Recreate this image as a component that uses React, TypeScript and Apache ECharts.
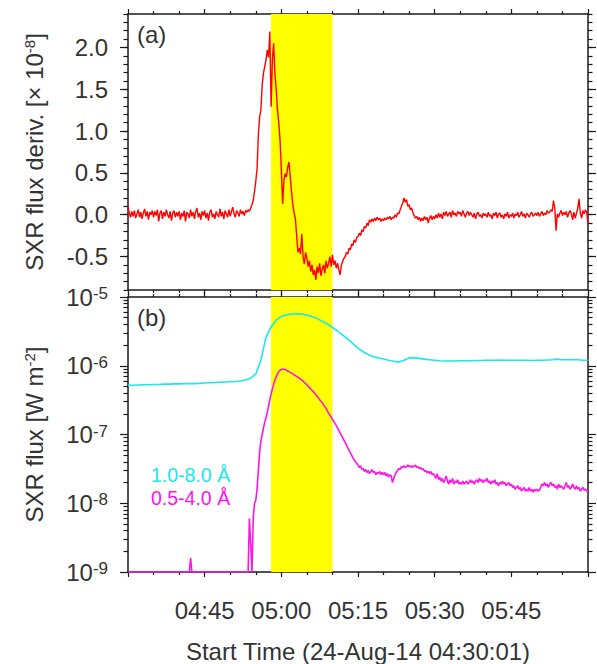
import React, { useEffect, useRef } from 'react';
import * as echarts from 'echarts';

// ---------- data ----------
// time axis: minutes after 04:30
const X_MIN = 0;
const X_MAX = 90;
const X_TICK_MINUTES = [15, 30, 45, 60, 75];
const X_TICK_LABELS = ['04:45', '05:00', '05:15', '05:30', '05:45'];
const X_TITLE = 'Start Time (24-Aug-14 04:30:01)';
const HIGHLIGHT = [28, 40];

// (a) SXR flux derivative (x 1e-8), sampled every 0.25 min
const DERIV_STEP = 0.25;
const derivValues = [
  0.10, 0.02, -0.03, 0.04, -0.02, 0.05, -0.04, 0.01, 0.06, -0.03, 0.03, -0.05, 0.02, 0.07, -0.02, 0.04, -0.06, 0.03, 0.00, 0.05,
  -0.03, 0.04, -0.01, 0.06, -0.08, 0.02, 0.05, -0.05, 0.03, -0.02, 0.06, 0.00, -0.04, 0.04, -0.07, 0.02, 0.05, -0.03, 0.03, -0.02,
  0.04, -0.06, 0.02, -0.02, 0.05, -0.08, 0.03, 0.01, -0.04, 0.06, -0.02, 0.03, -0.05, 0.04, 0.08, -0.03, 0.02, -0.06, 0.04, -0.01,
  0.05, -0.04, 0.02, -0.07, 0.03, 0.06, -0.03, 0.01, -0.05, 0.04, 0.00, -0.03, 0.07, -0.02, 0.03, -0.05, 0.05, 0.01, -0.03, 0.06,
  -0.02, 0.04, 0.09, 0.01, -0.03, 0.05, 0.02, -0.02, 0.06, 0.01, 0.04, -0.01, 0.05, 0.03, 0.06, 0.04, 0.08, 0.12, 0.17, 0.28,
  0.40, 0.55, 0.95, 1.17, 1.25, 1.55, 1.69, 1.77, 1.85, 1.97, 1.88, 2.19, 1.29, 1.85, 2.05, 1.68, 1.50, 1.25, 1.10, 0.89,
  0.55, 0.13, 0.41, 0.49, 0.45, 0.57, 0.63, 0.45, 0.27, 0.12, 0.02, -0.05, -0.25, -0.45, -0.40, -0.47, -0.23, -0.50, -0.59, -0.45,
  -0.52, -0.62, -0.55, -0.68, -0.60, -0.72, -0.66, -0.78, -0.62, -0.70, -0.58, -0.73, -0.65, -0.60, -0.70, -0.55, -0.64, -0.58, -0.50, -0.62,
  -0.48, -0.60, -0.55, -0.64, -0.58, -0.66, -0.72, -0.60, -0.56, -0.52, -0.50, -0.45, -0.47, -0.40, -0.42, -0.35, -0.37, -0.30, -0.33, -0.27,
  -0.26, -0.22, -0.25, -0.18, -0.20, -0.14, -0.16, -0.10, -0.13, -0.06, -0.09, -0.05, -0.08, -0.04, -0.07, -0.03, -0.06, -0.04, -0.08, -0.05,
  -0.07, -0.04, -0.06, -0.03, -0.05, -0.02, -0.06, -0.03, -0.04, 0.00, -0.03, 0.02, 0.01, 0.06, 0.10, 0.14, 0.20, 0.15, 0.18, 0.10,
  0.12, 0.06, 0.08, 0.02, -0.01, -0.04, -0.02, -0.06, -0.03, -0.08, -0.04, -0.07, -0.02, -0.06, -0.03, -0.10, -0.04, -0.01, -0.06, -0.02,
  -0.05, 0.00, -0.04, 0.02, -0.03, 0.01, -0.05, 0.03, -0.01, 0.04, -0.02, 0.01, 0.03, -0.03, 0.05, 0.00, 0.02, -0.02, 0.04, 0.01,
  0.03, -0.02, 0.05, 0.01, -0.03, 0.02, 0.04, -0.01, 0.03, 0.00, -0.03, 0.02, -0.05, 0.01, 0.03, -0.02, 0.00, -0.04, 0.02, -0.01,
  0.01, -0.03, 0.03, -0.02, 0.00, -0.05, 0.02, -0.01, 0.03, -0.04, 0.01, 0.02, -0.03, 0.00, -0.05, 0.01, -0.02, 0.03, -0.04, 0.00,
  -0.02, 0.02, -0.04, 0.01, -0.01, 0.03, -0.03, 0.00, 0.04, -0.02, 0.01, -0.04, 0.02, 0.00, -0.03, 0.01, 0.03, -0.02, 0.00, 0.02,
  -0.01, 0.03, -0.02, 0.01, 0.04, -0.01, 0.02, 0.00, 0.05, 0.02, 0.03, 0.06, 0.04, 0.17, 0.08, -0.19, 0.01, -0.03, 0.02, 0.05,
  -0.01, 0.03, 0.00, 0.04, -0.03, 0.02, 0.05, 0.01, -0.06, 0.03, -0.04, 0.02, 0.08, 0.19, 0.02, -0.04, 0.05, 0.01, 0.06, 0.03,
  -0.11,
];
const DERIV_TICKS = [-0.5, 0, 0.5, 1.0, 1.5, 2.0];

// (b) GOES 1.0-8.0 A flux (W m^-2), every 1 min
const LONG_STEP = 1;
const longFlux = [
  5.2e-7, 5.2e-7, 5.25e-7, 5.3e-7, 5.3e-7, 5.35e-7, 5.35e-7, 5.4e-7, 5.4e-7, 5.45e-7,
  5.45e-7, 5.5e-7, 5.5e-7, 5.5e-7, 5.55e-7, 5.6e-7, 5.65e-7, 5.7e-7, 5.75e-7, 5.8e-7,
  5.85e-7, 5.9e-7, 6.0e-7, 6.2e-7, 6.6e-7, 7.6e-7, 1.2e-6, 2.6e-6, 3.7e-6, 4.6e-6,
  5.2e-6, 5.5e-6, 5.65e-6, 5.7e-6, 5.65e-6, 5.45e-6, 5.2e-6, 4.85e-6, 4.45e-6, 4.05e-6,
  3.6e-6, 3.2e-6, 2.8e-6, 2.45e-6, 2.1e-6, 1.8e-6, 1.6e-6, 1.45e-6, 1.35e-6, 1.3e-6,
  1.25e-6, 1.2e-6, 1.16e-6, 1.13e-6, 1.2e-6, 1.3e-6, 1.3e-6, 1.28e-6, 1.25e-6, 1.22e-6,
  1.2e-6, 1.18e-6, 1.17e-6, 1.17e-6, 1.17e-6, 1.18e-6, 1.18e-6, 1.18e-6, 1.19e-6, 1.19e-6,
  1.2e-6, 1.2e-6, 1.2e-6, 1.21e-6, 1.2e-6, 1.2e-6, 1.2e-6, 1.2e-6, 1.2e-6, 1.19e-6,
  1.2e-6, 1.2e-6, 1.21e-6, 1.22e-6, 1.25e-6, 1.22e-6, 1.22e-6, 1.23e-6, 1.22e-6, 1.2e-6,
  1.2e-6,
];

// (b) GOES 0.5-4.0 A flux (W m^-2), every 0.25 min
const SHORT_STEP = 0.25;
const shortFlux = [
  1e-9, 1e-9, 1e-9, 1e-9, 1e-9, 1e-9, 1e-9, 1e-9, 1e-9, 1e-9, 1e-9, 1e-9, 1e-9, 1e-9, 1e-9, 1e-9, 1e-9, 1e-9, 1e-9, 1e-9,
  1e-9, 1e-9, 1e-9, 1e-9, 1e-9, 1e-9, 1e-9, 1e-9, 1e-9, 1e-9, 1e-9, 1e-9, 1e-9, 1e-9, 1e-9, 1e-9, 1e-9, 1e-9, 1e-9, 1e-9,
  1e-9, 1e-9, 1e-9, 1e-9, 1e-9, 1e-9, 1e-9, 1e-9, 1e-9, 1.6e-9, 1e-9, 1e-9, 1e-9, 1e-9, 1e-9, 1e-9, 1e-9, 1e-9, 1e-9, 1e-9,
  1e-9, 1e-9, 1e-9, 1e-9, 1e-9, 1e-9, 1e-9, 1e-9, 1e-9, 1e-9, 1e-9, 1e-9, 1e-9, 1e-9, 1e-9, 1e-9, 1e-9, 1e-9, 1e-9, 1e-9,
  1e-9, 1e-9, 1e-9, 1e-9, 1e-9, 1e-9, 1e-9, 1e-9, 1e-9, 1e-9, 1e-9, 1e-9, 1e-9, 1e-9, 1e-9, 6e-9, 2.6e-9, 1e-9, 6e-9, 1.0e-8,
  1.1e-8, 1.6e-8, 3.0e-8, 5.5e-8, 8e-8, 1.0e-7, 1.25e-7, 1.5e-7, 1.75e-7, 2.1e-7, 2.6e-7, 3.2e-7, 3.9e-7, 4.6e-7, 5.4e-7, 6.2e-7, 6.9e-7, 7.6e-7, 8.2e-7, 8.6e-7,
  8.8e-7, 8.9e-7, 8.9e-7, 8.8e-7, 8.6e-7, 8.4e-7, 8.2e-7, 8.0e-7, 7.8e-7, 7.6e-7, 7.4e-7, 7.2e-7, 7.0e-7, 6.8e-7, 6.6e-7, 6.4e-7, 6.2e-7, 6.0e-7, 5.7e-7, 5.5e-7,
  5.3e-7, 5.0e-7, 4.8e-7, 4.6e-7, 4.4e-7, 4.2e-7, 4.0e-7, 3.8e-7, 3.6e-7, 3.4e-7, 3.2e-7, 3.05e-7, 2.9e-7, 2.7e-7, 2.55e-7, 2.4e-7, 2.2e-7, 2.05e-7, 1.9e-7, 1.8e-7,
  1.65e-7, 1.55e-7, 1.45e-7, 1.35e-7, 1.25e-7, 1.15e-7, 1.05e-7, 9.7e-8, 9.0e-8, 8.3e-8, 7.6e-8, 7.0e-8, 6.4e-8, 5.9e-8, 5.4e-8, 5.0e-8, 4.6e-8, 4.3e-8, 4.0e-8, 3.8e-8,
  3.6e-8, 3.3e-8, 3.5e-8, 3.1e-8, 3.2e-8, 2.9e-8, 3.1e-8, 2.8e-8, 3.0e-8, 2.7e-8, 2.9e-8, 3.1e-8, 2.8e-8, 2.9e-8, 2.6e-8, 2.8e-8, 2.7e-8, 2.9e-8, 2.6e-8, 2.8e-8,
  2.6e-8, 2.8e-8, 2.5e-8, 2.7e-8, 2.4e-8, 2.6e-8, 2.5e-8, 2.0e-8, 2.3e-8, 2.6e-8, 2.8e-8, 3.0e-8, 3.2e-8, 3.1e-8, 3.4e-8, 3.3e-8, 3.5e-8, 3.3e-8, 3.4e-8, 3.6e-8,
  3.4e-8, 3.5e-8, 3.3e-8, 3.5e-8, 3.4e-8, 3.6e-8, 3.3e-8, 3.4e-8, 3.2e-8, 3.3e-8, 3.1e-8, 3.2e-8, 2.9e-8, 3.0e-8, 2.8e-8, 2.9e-8, 2.7e-8, 2.9e-8, 2.6e-8, 2.7e-8,
  2.5e-8, 2.3e-8, 2.7e-8, 2.2e-8, 2.4e-8, 2.1e-8, 2.3e-8, 2.0e-8, 2.2e-8, 2.5e-8, 2.1e-8, 1.9e-8, 2.2e-8, 2.0e-8, 2.3e-8, 1.9e-8, 2.1e-8, 2.0e-8, 2.2e-8, 1.9e-8,
  2.0e-8, 1.9e-8, 2.1e-8, 1.9e-8, 2.0e-8, 2.1e-8, 1.9e-8, 2.0e-8, 2.2e-8, 2.0e-8, 2.1e-8, 1.9e-8, 2.1e-8, 2.2e-8, 2.0e-8, 2.3e-8, 2.1e-8, 2.2e-8, 2.0e-8, 2.2e-8,
  2.1e-8, 2.3e-8, 2.0e-8, 2.1e-8, 1.9e-8, 2.1e-8, 2.0e-8, 2.2e-8, 1.9e-8, 2.0e-8, 1.8e-8, 2.0e-8, 1.9e-8, 2.1e-8, 1.9e-8, 2.0e-8, 1.8e-8, 1.9e-8, 2.0e-8, 1.8e-8,
  1.9e-8, 1.7e-8, 1.8e-8, 1.6e-8, 1.7e-8, 1.8e-8, 1.6e-8, 1.7e-8, 1.5e-8, 1.6e-8, 1.7e-8, 1.5e-8, 1.6e-8, 1.5e-8, 1.7e-8, 1.5e-8, 1.6e-8, 1.45e-8, 1.6e-8, 1.5e-8,
  1.6e-8, 1.5e-8, 1.55e-8, 1.7e-8, 1.9e-8, 1.8e-8, 2.0e-8, 1.8e-8, 1.9e-8, 1.7e-8, 1.9e-8, 2.0e-8, 1.8e-8, 1.9e-8, 1.7e-8, 1.8e-8, 1.6e-8, 1.9e-8, 1.7e-8, 1.8e-8,
  1.7e-8, 1.6e-8, 1.8e-8, 2.0e-8, 1.7e-8, 1.8e-8, 1.6e-8, 1.7e-8, 1.9e-8, 1.7e-8, 1.6e-8, 1.8e-8, 1.6e-8, 1.7e-8, 1.5e-8, 1.6e-8, 1.7e-8, 1.55e-8, 1.6e-8, 1.5e-8,
  1.55e-8,
];
const FLUX_DECADES = [-9, -8, -7, -6, -5];
const LEGEND_LABELS = ['1.0-8.0 Å', '0.5-4.0 Å'];
const PANEL_LABELS = ['(a)', '(b)'];

// ---------- styles ----------
const FONT = "'Liberation Sans', Arial, Helvetica, sans-serif";
const TXT = '#333333';
const AX = '#1a1a1a';
const RED = '#ff0000';
const CYAN = '#1ce6ee';
const MAGENTA = '#ff14e6';
const YELLOW = '#ffff00';

export default function App() {
  const ref = useRef<HTMLDivElement>(null);

  useEffect(() => {
    if (!ref.current) return;
    const chart = echarts.init(ref.current, undefined, { renderer: 'svg' });

    const derivData = derivValues.map((v, i) => [i * DERIV_STEP, v]);
    const longData = longFlux.map((v, i) => [i * LONG_STEP, v]);
    const shortData = shortFlux.map((v, i) => [i * SHORT_STEP, v]);

    const derivMinor: number[] = [];
    for (let k = -9; k <= 24; k++) derivMinor.push(k / 10);

    const fluxMajor = FLUX_DECADES.map((d, i) =>
      i === 0 ? Math.pow(10, d) * 1.000001 : i === FLUX_DECADES.length - 1 ? Math.pow(10, d) * 0.999999 : Math.pow(10, d)
    );
    const fluxMinor: number[] = [];
    for (let d = -9; d <= -6; d++) for (let m = 2; m <= 9; m++) fluxMinor.push(m * Math.pow(10, d));

    const lineStyle = { color: AX, width: 1.5 };
    const tickStyle = { color: AX, width: 1.2 };

    const xAxisFor = (gridIndex: number, position: string, labels: boolean) => ({
      type: 'value',
      gridIndex,
      position,
      min: X_MIN,
      max: X_MAX,
      interval: 15,
      axisLine: { show: true, onZero: false, lineStyle },
      axisTick: { show: true, inside: false, length: 5, lineStyle: tickStyle },
      minorTick: { show: true, splitNumber: 3, length: 3, lineStyle: tickStyle },
      splitLine: { show: false },
      minorSplitLine: { show: false },
      axisLabel: labels
        ? {
            show: true,
            customValues: X_TICK_MINUTES,
            formatter: (v: number) => X_TICK_LABELS[X_TICK_MINUTES.indexOf(Math.round(v))] ?? '',
            fontSize: 24,
            fontFamily: FONT,
            color: TXT,
            margin: 26,
          }
        : { show: false },
      ...(labels
        ? {
            name: X_TITLE,
            nameLocation: 'middle',
            nameGap: 67,
            nameTextStyle: { fontSize: 24, fontFamily: FONT, color: TXT },
          }
        : {}),
    });

    const derivAxis = (position: string, minor: boolean, labels: boolean) => ({
      type: 'value',
      gridIndex: 0,
      position,
      min: -0.9,
      max: 2.4,
      axisLine: { show: !minor, onZero: false, lineStyle },
      axisTick: {
        show: true,
        inside: false,
        length: minor ? 4.5 : 8,
        customValues: minor ? derivMinor : DERIV_TICKS,
        lineStyle: tickStyle,
      },
      splitLine: { show: false },
      axisLabel: labels
        ? {
            show: true,
            customValues: DERIV_TICKS,
            formatter: (v: number) => v.toFixed(1),
            fontSize: 24,
            fontFamily: FONT,
            color: TXT,
            margin: 20,
          }
        : { show: false },
      ...(labels
        ? {
            name: 'SXR flux deriv. [× 10{sup|-8}]',
            nameLocation: 'middle',
            nameGap: 82,
            nameTextStyle: {
              fontSize: 24,
              fontFamily: FONT,
              color: TXT,
              rich: { sup: { fontSize: 15, fontFamily: FONT, color: TXT, verticalAlign: 'top', lineHeight: 15 } },
            },
          }
        : {}),
    });

    const fluxAxis = (position: string, minor: boolean, labels: boolean) => ({
      type: 'log',
      logBase: 10,
      gridIndex: 1,
      position,
      min: 1e-9,
      max: 1e-5,
      axisLine: { show: !minor, onZero: false, lineStyle },
      axisTick: {
        show: true,
        inside: false,
        length: minor ? 4.5 : 8,
        customValues: minor ? fluxMinor : fluxMajor,
        lineStyle: tickStyle,
      },
      minorTick: { show: false },
      splitLine: { show: false },
      axisLabel: labels
        ? {
            show: true,
            customValues: fluxMajor,
            formatter: (v: number) => `{m|10}{s|${Math.round(Math.log10(v))}}`,
            margin: 20,
            rich: {
              m: { fontSize: 24, fontFamily: FONT, color: TXT, lineHeight: 24, verticalAlign: 'bottom' },
              s: { fontSize: 17, fontFamily: FONT, color: TXT, lineHeight: 17, verticalAlign: 'top', padding: [0, 0, 12, 0] },
            },
          }
        : { show: false },
      ...(labels
        ? {
            name: 'SXR flux [W m{sup|-2}]',
            nameLocation: 'middle',
            nameGap: 82,
            nameTextStyle: {
              fontSize: 24,
              fontFamily: FONT,
              color: TXT,
              rich: { sup: { fontSize: 15, fontFamily: FONT, color: TXT, verticalAlign: 'top', lineHeight: 15 } },
            },
          }
        : {}),
    });

    const band = (color: string) => ({
      silent: true,
      itemStyle: { color, opacity: 1 },
      data: [[{ xAxis: HIGHLIGHT[0] }, { xAxis: HIGHLIGHT[1] }]],
    });

    chart.setOption({
      animation: false,
      backgroundColor: '#ffffff',
      grid: [
        { left: 128, right: 9, top: 14, height: 276 },
        { left: 128, right: 9, top: 297, height: 275 },
      ],
      xAxis: [
        xAxisFor(0, 'bottom', false),
        xAxisFor(0, 'top', false),
        xAxisFor(1, 'top', false),
        xAxisFor(1, 'bottom', true),
      ],
      yAxis: [
        derivAxis('left', false, true),
        derivAxis('left', true, false),
        derivAxis('right', false, false),
        derivAxis('right', true, false),
        fluxAxis('left', false, true),
        fluxAxis('left', true, false),
        fluxAxis('right', false, false),
        fluxAxis('right', true, false),
      ],
      series: [
        {
          type: 'line',
          xAxisIndex: 0,
          yAxisIndex: 0,
          data: derivData,
          showSymbol: false,
          lineStyle: { color: RED, width: 1.4 },
          markArea: band(YELLOW),
        },
        {
          type: 'line',
          xAxisIndex: 3,
          yAxisIndex: 4,
          data: shortData,
          showSymbol: false,
          lineStyle: { color: MAGENTA, width: 1.6 },
          markArea: band(YELLOW),
        },
        {
          type: 'line',
          xAxisIndex: 3,
          yAxisIndex: 4,
          data: longData,
          showSymbol: false,
          lineStyle: { color: CYAN, width: 1.6 },
        },
      ],
      graphic: [
        { type: 'text', left: 137, top: 22, style: { text: PANEL_LABELS[0], font: `24px ${FONT}`, fill: TXT } },
        { type: 'text', left: 137, top: 305, style: { text: PANEL_LABELS[1], font: `24px ${FONT}`, fill: TXT } },
        { type: 'text', left: 151, top: 465, style: { text: LEGEND_LABELS[0], font: `19.5px ${FONT}`, fill: CYAN } },
        { type: 'text', left: 151, top: 488, style: { text: LEGEND_LABELS[1], font: `19.5px ${FONT}`, fill: MAGENTA } },
      ],
    });

    return () => chart.dispose();
  }, []);

  return (
    <div
      ref={ref}
      style={{ position: 'fixed', left: 0, top: 0, width: 597, height: 664, background: '#fff' }}
    />
  );
}
